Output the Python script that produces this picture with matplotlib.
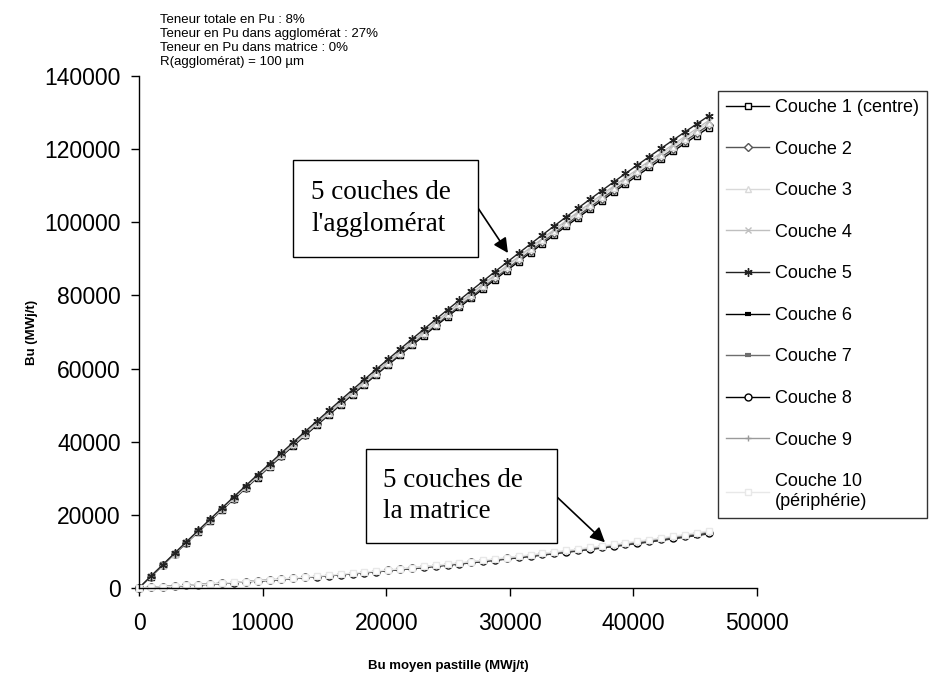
import matplotlib
matplotlib.use("Agg")
import matplotlib.pyplot as plt
from matplotlib.patches import Rectangle

plt.rcParams["font.family"] = ["Liberation Sans", "DejaVu Sans"]

# Bu moyen pastille (MWj/t)
bu_moyen = [0, 960, 1920, 2880, 3840, 4800, 5760, 6720, 7680, 8640, 9600, 10560, 11520,
            12480, 13440, 14400, 15360, 16320, 17280, 18240, 19200, 20160, 21120, 22080,
            23040, 24000, 24960, 25920, 26880, 27840, 28800, 29760, 30720, 31680, 32640,
            33600, 34560, 35520, 36480, 37440, 38400, 39360, 40320, 41280, 42240, 43200,
            44160, 45120, 46080]

# couches de l'agglomérat
couche1 = [0, 3120, 6210, 9280, 12340, 15370, 18380, 21370, 24340, 27290, 30210, 33120, 36000,
           38860, 41710, 44530, 47330, 50110, 52870, 55600, 58320, 61020, 63690, 66340,
           68970, 71590, 74180, 76740, 79290, 81820, 84330, 86810, 89270, 91720, 94140,
           96540, 98920, 101280, 103620, 105930, 108230, 110500, 112760, 114990, 117200,
           119390, 121560, 123710, 125840]
couche2 = [0, 3130, 6240, 9330, 12400, 15450, 18470, 21480, 24460, 27430, 30370, 33290, 36190,
           39060, 41920, 44760, 47570, 50370, 53140, 55890, 58620, 61330, 64020, 66680,
           69330, 71950, 74560, 77140, 79700, 82240, 84760, 87260, 89730, 92190, 94620,
           97040, 99430, 101800, 104150, 106480, 108780, 111070, 113340, 115580, 117800,
           120000, 122180, 124340, 126480]
couche3 = [0, 3150, 6270, 9380, 12460, 15530, 18570, 21590, 24590, 27570, 30520, 33460, 36370,
           39260, 42140, 44990, 47810, 50620, 53410, 56170, 58920, 61640, 64340, 67020,
           69680, 72320, 74940, 77530, 80110, 82660, 85190, 87700, 90190, 92660, 95110,
           97530, 99930, 102320, 104680, 107020, 109340, 111640, 113910, 116170, 118400,
           120620, 122810, 124980, 127130]
couche4 = [0, 3160, 6310, 9430, 12530, 15600, 18660, 21700, 24710, 27710, 30680, 33630, 36550,
           39460, 42350, 45210, 48060, 50880, 53680, 56460, 59220, 61950, 64670, 67360,
           70040, 72690, 75320, 77920, 80510, 83080, 85620, 88150, 90650, 93130, 95590,
           98020, 100440, 102840, 105210, 107560, 109890, 112200, 114490, 116760, 119000,
           121230, 123430, 125610, 127770]
couche5 = [0, 3200, 6370, 9520, 12650, 15760, 18850, 21920, 24960, 27990, 30990, 33970, 36920,
           39860, 42780, 45670, 48540, 51390, 54220, 57030, 59820, 62580, 65320, 68040,
           70740, 73420, 76080, 78710, 81330, 83920, 86490, 89040, 91560, 94070, 96550,
           99020, 101460, 103880, 106270, 108650, 111000, 113340, 115650, 117940, 120210,
           122450, 124680, 126880, 129060]

# couches de la matrice
couche6 = [0, 160, 330, 500, 680, 870, 1060, 1260, 1470, 1680, 1900, 2120, 2350, 2590, 2830,
           3080, 3330, 3590, 3860, 4140, 4420, 4700, 5000, 5300, 5600, 5910, 6230, 6550,
           6890, 7220, 7570, 7910, 8270, 8630, 9000, 9370, 9750, 10140, 10530, 10930, 11340,
           11750, 12170, 12590, 13020, 13460, 13900, 14350, 14810]
couche7 = [0, 160, 330, 510, 690, 880, 1070, 1270, 1480, 1700, 1920, 2140, 2370, 2610, 2860,
           3110, 3370, 3630, 3900, 4180, 4460, 4750, 5050, 5350, 5660, 5970, 6300, 6620,
           6960, 7300, 7640, 8000, 8350, 8720, 9090, 9470, 9850, 10240, 10640, 11050, 11460,
           11870, 12290, 12720, 13160, 13600, 14050, 14500, 14960]
couche8 = [0, 160, 340, 510, 700, 890, 1080, 1290, 1500, 1710, 1940, 2160, 2400, 2640, 2890,
           3140, 3400, 3670, 3940, 4220, 4510, 4800, 5100, 5410, 5720, 6040, 6360, 6690,
           7030, 7370, 7720, 8080, 8440, 8810, 9190, 9570, 9950, 10350, 10750, 11160, 11570,
           11990, 12420, 12850, 13290, 13740, 14190, 14650, 15110]
couche9 = [0, 170, 340, 520, 710, 900, 1100, 1300, 1510, 1730, 1960, 2190, 2420, 2670, 2920,
           3170, 3440, 3710, 3980, 4270, 4550, 4850, 5150, 5460, 5780, 6100, 6420, 6760,
           7100, 7450, 7800, 8160, 8530, 8900, 9280, 9660, 10060, 10450, 10860, 11270, 11690,
           12110, 12540, 12980, 13430, 13880, 14330, 14800, 15270]
couche10 = [0, 170, 350, 530, 720, 910, 1120, 1330, 1540, 1760, 1990, 2230, 2470, 2720, 2980,
            3240, 3510, 3780, 4060, 4350, 4650, 4950, 5250, 5570, 5890, 6220, 6550, 6890,
            7240, 7590, 7960, 8320, 8700, 9080, 9460, 9860, 10260, 10660, 11080, 11500, 11920,
            12360, 12790, 13240, 13690, 14150, 14620, 15090, 15570]

etiquettes = ["Couche 1 (centre)", "Couche 2", "Couche 3", "Couche 4", "Couche 5",
              "Couche 6", "Couche 7", "Couche 8", "Couche 9", "Couche 10\n(périphérie)"]

series = [couche1, couche2, couche3, couche4, couche5,
          couche6, couche7, couche8, couche9, couche10]

# style de chaque couche: couleur, marqueur, remplissage, epaisseur du marqueur
styles = [
    ("#000000", "s", "white", 1.0),
    ("#555555", "D", "white", 1.0),
    ("#d9d9d9", "^", "white", 1.0),
    ("#bfbfbf", "x", "none", 1.0),
    ("#222222", (6, 2, 0), "none", 1.0),
    ("#000000", "_", "none", 3.0),
    ("#6e6e6e", "_", "none", 3.0),
    ("#000000", "o", "white", 1.0),
    ("#9a9a9a", "+", "none", 1.0),
    ("#e8e8e8", "s", "white", 1.0),
]

W, H = 931, 676
fig = plt.figure(figsize=(W / 100, H / 100), dpi=100)
ax = fig.add_axes([139 / W, 1 - 588 / H, (757 - 139) / W, (588 - 76) / H])

for y, lab, (col, mk, fc, mew) in zip(series, etiquettes, styles):
    ms = 5
    if mk == "D":
        ms = 4
    elif mk == (6, 2, 0):
        ms = 6
    ax.plot(bu_moyen, y, color=col, lw=1.0, marker=mk, markersize=ms,
            markerfacecolor=fc, markeredgecolor=col, markeredgewidth=mew,
            label=lab, clip_on=False)

ax.set_xlim(0, 50000)
ax.set_ylim(0, 140000)
ax.set_xticks(range(0, 50001, 10000))
ax.set_yticks(range(0, 140001, 20000))
ax.spines["top"].set_visible(False)
ax.spines["right"].set_visible(False)
for s in ("left", "bottom"):
    ax.spines[s].set_linewidth(1.0)
    ax.spines[s].set_color("black")
ax.tick_params(direction="out", length=6, width=1, labelsize=16.5)
ax.tick_params(axis="x", pad=11)
ax.tick_params(axis="y", pad=7)

ax.set_xlabel("Bu moyen pastille (MWj/t)", fontsize=9.5, fontweight="bold", labelpad=18)
ax.set_ylabel("Bu (MWj/t)", fontsize=9.5, fontweight="bold", labelpad=5)

fig.text(160 / W, 1 - 14 / H,
         "Teneur totale en Pu : 8%\n"
         "Teneur en Pu dans agglomérat : 27%\n"
         "Teneur en Pu dans matrice : 0%\n"
         "R(agglomérat) = 100 µm",
         fontsize=9.5, va="top", ha="left", linespacing=1.22)


# encadre (en pixels de la figure) + texte + fleche vers la courbe
def encadre(x0, y0, x1, y1, texte, tx, depart_y, cible):
    fig.patches.append(Rectangle((x0 / W, 1 - y1 / H), (x1 - x0) / W, (y1 - y0) / H,
                                 transform=fig.transFigure, fc="white", ec="black",
                                 lw=1.0, zorder=3))
    fig.text(tx / W, 1 - (y0 + y1) / 2 / H, texte, fontsize=19.5,
             family="Liberation Serif", ha="left", va="center", linespacing=1.35,
             zorder=4)
    ax.annotate("", xy=cible, xycoords="data",
                xytext=(x1 / W, 1 - depart_y / H), textcoords="figure fraction",
                arrowprops=dict(arrowstyle="-|>", color="black", lw=1.2,
                                mutation_scale=22, shrinkA=0, shrinkB=0))


encadre(293, 160, 478, 257, "5 couches de\nl'agglomérat", 311, 208, (29850, 91600))
encadre(366, 449, 557, 543, "5 couches de\nla matrice", 383, 497, (37700, 12500))

leg = ax.legend(loc="upper left", bbox_to_anchor=(718 / W, 1 - 91 / H),
                bbox_transform=fig.transFigure, borderaxespad=0, fontsize=13,
                frameon=True, fancybox=False, edgecolor="black", handlelength=2.4,
                handletextpad=0.3, labelspacing=1.36, borderpad=0.45)
leg.get_frame().set_linewidth(1.0)

fig.savefig("out.png", dpi=100)
